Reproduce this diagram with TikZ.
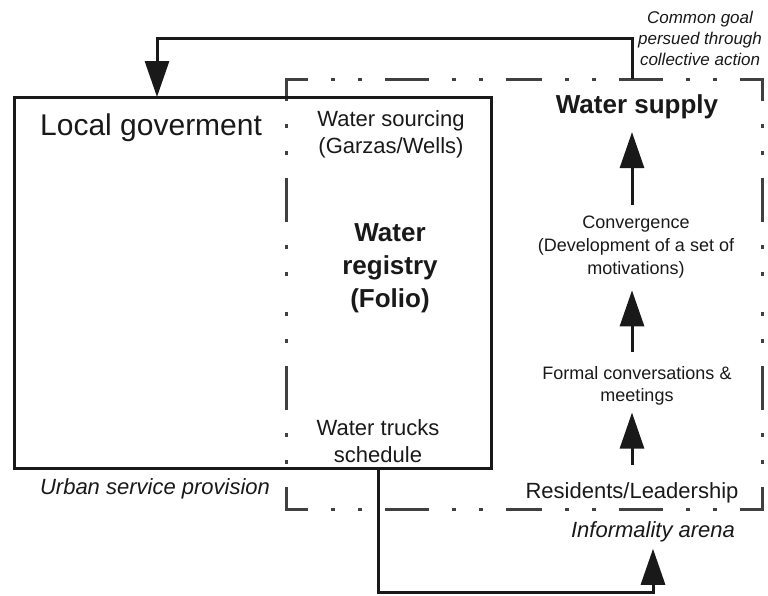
\documentclass[tikz,border=0pt]{standalone}
\usepackage{fontspec}
\setmainfont{Liberation Sans}
\usetikzlibrary{arrows.meta,calc}
\begin{document}
\begin{tikzpicture}[x=1pt,y=-1pt,
  conn/.style={line width=3pt,draw=black!90,-{Triangle[length=36pt,width=24pt]}},
  dbox/.style={line width=3pt,draw=black!75,line cap=rect,
    dash pattern=on 41pt off 26pt on 1pt off 26pt on 1pt off 26pt,dash phase=20.5pt},
  lbl/.style={inner sep=0pt,align=center,text=black!90},
  f30/.style={lbl,font=\fontsize{30}{36}\selectfont},
  f22/.style={lbl,font=\fontsize{22}{27}\selectfont},
  b26/.style={lbl,font=\fontsize{26}{33}\selectfont\bfseries},
  f18/.style={lbl,font=\fontsize{18}{23}\selectfont},
  f18b/.style={lbl,font=\fontsize{18}{22}\selectfont},
  i22/.style={lbl,font=\fontsize{22}{27}\selectfont\itshape},
  i17/.style={lbl,font=\fontsize{17}{21}\selectfont\itshape}]
\useasboundingbox (0,0) rectangle (768,595);

% informality arena frame
\node[minimum width=476pt,minimum height=430pt,inner sep=0pt,outer sep=0pt] (arena) at (524,294) {};
\draw[dbox] (arena.north west) -- (arena.north);
\draw[dbox] (arena.north east) -- (arena.north);
\draw[dbox] (arena.north west) -- (arena.west);
\draw[dbox] (arena.south west) -- (arena.west);
\draw[dbox] (arena.north east) -- (arena.east);
\draw[dbox] (arena.south east) -- (arena.east);
\draw[dbox] (arena.south west) -- (arena.south);
\draw[dbox] (arena.south east) -- (arena.south);

% local government box
\node[draw=black!90,line width=3pt,minimum width=477pt,minimum height=371pt,inner sep=0pt,outer sep=0pt] (gov) at (252.5,282.5) {};

% texts
\node[f30,anchor=base west] (govlbl) at (40,135) {Local goverment};
\node[f22] (src) at (391,134) {Water sourcing\\(Garzas/Wells)};
\node[b26] (reg) at (390,268) {Water\\registry\\(Folio)};
\node[f22] (trk) at (378,441.5) {Water trucks\\schedule};
\node[b26,anchor=base] (supply) at (637,113) {Water supply};
\node[f18] (conv) at (636,247) {Convergence\\(Development of a set of\\motivations)};
\node[f18b] (formal) at (637,386) {Formal conversations \&\\meetings};
\node[f22,anchor=base] (res) at (632,498) {Residents/Leadership};
\node[i22,anchor=base] (inf) at (653,537) {Informality arena};
\node[i22,anchor=base] (urban) at (155,494) {Urban service provision};
\node[i17] (goal) at (700,38) {Common goal\\persued through\\collective action};

% connectors
\draw[conn] ($(arena.north west)+(346,0)$) -- ++(0,-41) -| ($(gov.north west)+(143,0)$);
\draw[conn,shorten >=7pt] ($(gov.south west)+(364,0)$) -- ++(0,124) -| (inf.south);
\draw[conn,shorten <=17pt,shorten >=7pt] (res.north) -- (res.north |- formal.south);
\draw[conn,shorten <=14.5pt,shorten >=12pt] (res.north |- formal.north) -- (res.north |- conv.south);
\draw[conn,shorten <=10.5pt,shorten >=13.5pt] (res.north |- conv.north) -- (res.north |- supply.south);
\end{tikzpicture}
\end{document}
